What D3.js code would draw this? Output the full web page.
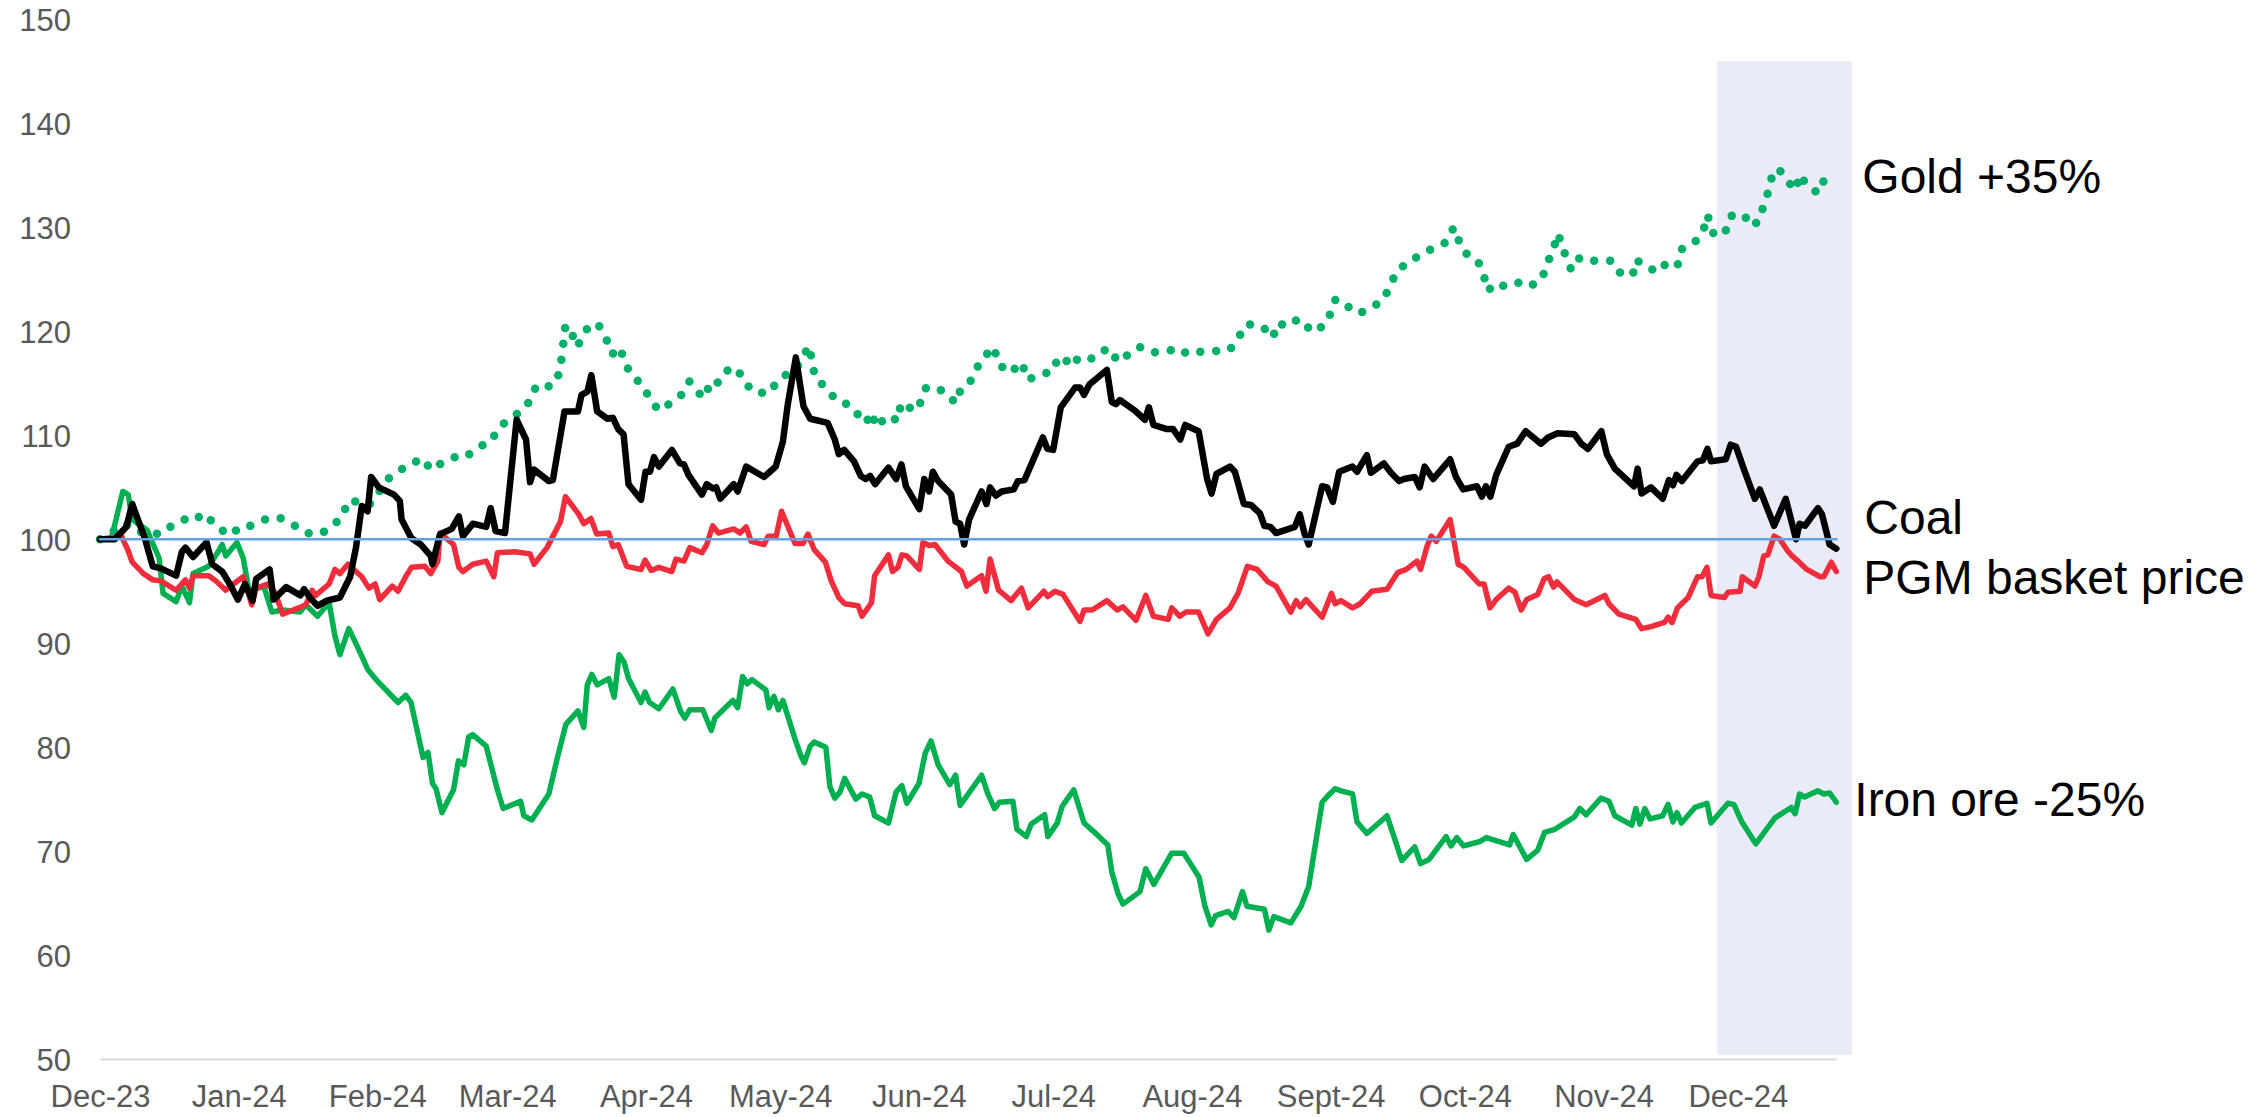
<!DOCTYPE html>
<html>
<head>
<meta charset="utf-8">
<script src="https://cdn.jsdelivr.net/npm/d3@7"></script>
<style>
  html, body { margin: 0; padding: 0; background: #fff; }
  svg { display: block; font-family: "Liberation Sans", Arial, sans-serif; }
</style>
</head>
<body>
<script>
// values are rebased to 100; x is days after 1 Dec 2023
const yTicks = [50, 60, 70, 80, 90, 100, 110, 120, 130, 140, 150];

const ironOre = [[0,100],[2.5,100],[5.1,104.6],[6.3,104.3],[7.2,101.9],[8.5,101.5],[10.5,100.9],[11.4,100],[13.2,98.2],[14.1,94.8],[17.0,94],[18.3,95.5],[20.0,93.9],[20.8,96.7],[24.3,97.4],[26.4,98.8],[27.3,99.5],[28.1,98.4],[30.6,99.7],[32.0,98.2],[33.3,95],[36.6,95.5],[38.4,93],[40.9,93.2],[44.7,93],[46.0,93.7],[48.6,92.6],[51.2,93.9],[52.5,90.7],[53.6,88.9],[55.6,91.4],[57.6,89.6],[59.8,87.5],[61.9,86.4],[66.6,84.3],[68.3,85],[69.5,84.3],[72.2,79],[73.3,79.5],[74.3,76.5],[75.1,76],[76.4,73.7],[79.0,75.9],[80.1,78.7],[81.3,78.3],[82.4,81],[83.3,81.2],[86.3,80.1],[88.8,75.9],[90.1,74.1],[94.0,74.8],[94.7,73.4],[96.5,73],[100.3,75.5],[102.1,78.8],[104.1,82.2],[106.8,83.5],[108.1,81.9],[108.9,86],[109.9,87],[111.1,86],[113.7,86.6],[114.9,84.8],[116.0,88.9],[117.1,88.2],[118.1,86.6],[120.9,84.3],[121.8,85.3],[122.8,84.3],[124.9,83.7],[128.0,85.6],[129.8,83.4],[130.7,82.8],[131.8,83.6],[134.7,83.6],[136.6,81.6],[137.4,82.8],[141.4,84.5],[142.5,83.8],[143.6,86.8],[144.6,86.1],[145.7,86.5],[148.8,85.5],[149.5,83.8],[150.6,84.9],[151.6,83.6],[152.6,84.5],[155.3,80.8],[156.6,79.2],[157.4,78.5],[158.7,80.1],[159.6,80.5],[162.2,80],[163.1,76.2],[164.2,75.1],[165.4,75.7],[166.4,77],[168.9,75],[170.3,75.5],[172.0,75.2],[173.1,73.4],[176.2,72.7],[177.9,75.7],[179.2,76.3],[180.3,74.6],[183.0,76.5],[184.4,79.4],[185.7,80.6],[187.3,78.3],[189.9,76.4],[191.2,77.3],[192.2,74.4],[197.0,77.3],[198.4,75.5],[199.9,74.1],[201.0,74.7],[204.0,74.8],[204.9,72.1],[207.0,71.4],[208.1,72.6],[211.1,73.5],[211.8,71.4],[213.9,72.7],[215.0,74.3],[217.6,75.9],[219.9,72.7],[222.0,71.9],[225.2,70.6],[226.1,68],[227.5,65.9],[228.6,64.9],[232.4,66.1],[233.7,68.3],[235.5,66.8],[239.5,69.8],[242.2,69.8],[245.6,67.5],[246.9,64.7],[248.3,62.9],[249.3,63.8],[252.1,64.2],[253.4,63.6],[255.3,66.1],[256.3,64.7],[260.2,64.4],[261.2,62.4],[262.3,63.7],[266.1,63.1],[268.4,64.7],[270.1,66.6],[273.1,74.7],[274.8,75.5],[276.0,76],[277.3,75.8],[279.9,75.5],[280.9,72.8],[283.1,71.7],[287.6,73.4],[289.3,71.2],[290.9,69.1],[293.8,70.4],[295.1,68.8],[297.0,69.2],[300.8,71.4],[301.9,70.5],[303.2,71.3],[304.7,70.5],[308.2,70.9],[309.8,71.3],[315.0,70.6],[315.8,71.6],[318.8,69.2],[321.3,70.1],[322.8,71.8],[325.1,72.1],[329.5,73.3],[330.7,74.1],[332.1,73.5],[335.4,75.1],[337.2,74.8],[338.5,73.4],[342.3,72.5],[343.2,74.1],[344.1,72.6],[345.2,74.1],[346.4,73.1],[349.2,73.4],[350.4,74.5],[351.5,72.8],[352.4,73.7],[353.4,72.7],[356.4,74.2],[359.1,74.6],[360.0,72.7],[363.8,74.6],[365.1,74.5],[366.9,72.8],[370.0,70.7],[372.4,72.1],[374.3,73.2],[377.9,74.2],[378.8,73.6],[379.8,75.5],[380.9,75.2],[383.9,75.8],[385.2,75.5],[386.5,75.6],[388.0,74.7]];

const pgm = [[0,100],[4.8,100.3],[6.3,98.9],[7.2,97.8],[9.7,96.7],[11.8,96.1],[13.6,96],[17.0,95.1],[19.1,96.1],[20.0,95.3],[20.8,96.5],[24.3,96.5],[25.9,96],[28.1,95.1],[29.8,95.7],[32.0,96.4],[33.3,94.6],[33.9,93.7],[34.9,95.3],[37.5,95.7],[39.2,94.8],[40.8,92.8],[44.4,93.4],[46.0,93.7],[47.4,95.1],[48.2,94.6],[51.2,95.7],[52.5,97.1],[53.6,96.7],[55.4,97.6],[58.5,96.4],[60.1,95.3],[61.5,95.7],[62.5,94.2],[65.3,95.5],[66.6,95],[68.3,96.4],[69.6,97.3],[72.6,97.4],[73.9,96.7],[75.5,97.9],[76.0,100.6],[79.0,99.5],[80.2,97.3],[81.1,96.9],[83.3,97.6],[86.3,97.9],[88.0,96.4],[88.8,98.7],[92.7,98.8],[96.1,98.6],[97.0,97.6],[99.9,99.2],[102.9,101.7],[104.0,104.1],[107.0,102.4],[108.1,101.5],[109.7,102],[111.0,100.5],[113.7,100.6],[114.6,99.3],[115.8,99.5],[117.7,97.4],[120.9,97.1],[121.8,98],[123.2,97],[124.9,97.3],[127.8,96.9],[128.7,98.1],[130.5,97.9],[131.8,99.2],[134.5,98.7],[135.6,99.5],[136.9,101.3],[138.2,100.6],[141.6,101],[143.0,100.6],[144.4,101.2],[145.5,99.8],[148.4,99.5],[149.3,100.3],[151.1,100.3],[152.3,102.7],[155.3,99.6],[157.1,99.6],[158.2,100.5],[159.6,99],[162.1,97.8],[163.4,96],[165.1,94.4],[166.4,93.8],[169.4,93.6],[170.3,92.6],[172.4,93.9],[173.1,96.5],[176.2,98.5],[177.1,96.9],[178.3,97.3],[179.2,98.5],[180.3,98.4],[183.1,97.1],[183.9,99.7],[185.3,99.4],[186.6,99.5],[189.5,97.9],[192.5,96.9],[193.7,95.5],[197.0,96.5],[198.0,95],[198.9,98.1],[200.8,95.1],[203.6,94.1],[205.9,95.3],[207.4,93.4],[210.9,95],[211.8,94.5],[213.4,95],[215.2,94.7],[219.0,92.1],[219.9,93.2],[221.7,93.2],[225.0,94.1],[227.3,93.2],[228.6,93.5],[231.5,92.2],[233.7,94.6],[235.4,92.6],[238.7,92.3],[239.5,93.4],[241.3,92.6],[242.7,93],[245.5,93],[247.6,90.9],[249.5,92.3],[252.5,93.4],[254.3,94.8],[256.4,97.4],[258.6,97.1],[261.0,95.9],[262.8,95.5],[266.1,93],[267.3,94.1],[268.2,93.5],[269.5,94.2],[273.1,92.5],[275.2,94.8],[276.0,93.8],[277.3,94.1],[279.9,93.4],[281.6,93.8],[284.2,95],[287.6,95.2],[290.0,96.8],[291.9,97.1],[294.3,97.9],[295.1,97.1],[296.6,99.4],[297.5,100.3],[298.6,99.8],[301.7,101.9],[303.5,97.6],[304.8,97.3],[308.2,95.7],[309.3,95.7],[310.6,93.4],[312.0,94.2],[314.8,95.3],[316.2,94.9],[317.6,93.2],[318.8,94.2],[321.3,94.7],[322.7,96.2],[323.7,96.4],[324.8,95.4],[325.6,95.9],[329.5,94.2],[332.1,93.7],[336.3,94.6],[337.2,93.8],[339.4,92.8],[343.2,92.3],[344.5,91.4],[346.6,91.6],[349.6,92],[350.4,92.5],[351.3,92],[352.5,93.4],[354.9,94.4],[357.0,96.4],[358.0,96.4],[359.1,97.3],[360.0,94.6],[363.0,94.4],[363.8,94.9],[366.5,95],[367.0,96.4],[369.8,95.5],[370.7,96.4],[371.8,98.4],[372.7,98.5],[374.1,100.3],[375.4,100],[377.1,98.9],[377.9,98.5],[379.2,98],[381.4,97.1],[384.4,96.4],[385.2,96.4],[386.9,97.8],[388.0,96.9]];

const coal = [[0,100],[3.3,100],[5.9,101.2],[7.2,103.4],[10.1,100],[10.6,99.2],[11.8,97.4],[13.6,97.2],[17.0,96.5],[18.3,98.8],[19.1,99.2],[20.8,98.3],[23.8,99.7],[25.1,97.6],[27.3,96.9],[29.0,95.7],[30.8,94.2],[32.4,95.7],[34.1,94.1],[34.9,96.2],[37.9,97.1],[38.8,94.2],[41.6,95.4],[44.8,94.6],[45.6,95.2],[46.9,94.4],[48.6,93.6],[50.7,94.1],[53.6,94.4],[55.9,96.4],[57.2,99.2],[58.5,103.2],[59.8,102.7],[60.6,106],[62.3,105],[65.7,104.3],[67.0,103.7],[67.4,101.9],[69.6,100.1],[71.7,99.5],[73.9,98.4],[74.3,97.6],[75.5,99.7],[76.0,100.5],[78.6,101],[80.2,102.2],[81.1,100.3],[83.3,101.5],[86.3,101.2],[87.3,103],[88.4,100.8],[90.5,100.6],[93.1,111.5],[95.2,109.6],[96.1,105.5],[97.0,106.7],[100.3,105.6],[101.2,105.7],[103.8,112.3],[106.8,112.3],[107.6,113.9],[108.9,114.2],[109.8,115.8],[111.1,112.3],[113.4,111.6],[114.6,111.7],[115.8,110.6],[117.0,110.1],[118.1,105.3],[120.9,103.8],[121.9,106.5],[122.9,106.5],[123.8,107.9],[124.9,107],[127.8,108.6],[129.6,107.3],[130.5,107.2],[131.5,106.2],[134.5,104.3],[135.6,105.3],[136.9,104.9],[137.7,105],[138.6,103.9],[141.6,105.3],[142.5,104.6],[144.4,107],[148.4,106],[149.7,106.5],[151.0,107],[152.6,109.4],[153.7,113],[155.5,117.5],[157.2,112.8],[158.7,111.6],[162.6,111.2],[164.2,109.6],[165.1,108.2],[166.3,108.6],[168.5,107.5],[170.0,106.1],[171.1,105.8],[172.1,106.1],[173.2,105.3],[176.2,106.9],[177.9,105.8],[179.1,107.2],[180.1,105.1],[183.1,102.9],[184.2,105.8],[185.3,104.6],[186.1,106.5],[187.3,105.6],[190.2,104.3],[191.2,101.7],[192.2,101.5],[193.1,99.5],[194.2,101.9],[197.0,104.6],[198.1,103.4],[198.9,105],[200.2,104.2],[201.5,104.6],[204.2,104.8],[205.1,105.6],[206.6,105.7],[210.7,109.8],[211.7,108.7],[213.0,108.6],[214.7,112.7],[217.9,114.6],[219.0,114.6],[219.9,113.9],[221.1,114.9],[225.0,116.3],[226.1,113.2],[227.0,113],[227.9,113.4],[231.2,112.4],[233.5,111.5],[234.4,112.7],[235.4,111],[238.4,110.6],[239.8,110.6],[241.4,109.6],[242.5,111],[245.5,110.4],[247.4,105.8],[248.4,104.4],[249.5,106.3],[252.5,107],[253.6,106.5],[255.6,103.4],[257.2,103.3],[259.2,102.5],[260.2,101.3],[261.5,101.2],[262.8,100.6],[267.0,101.2],[268.1,102.4],[269.2,100.5],[270.1,99.5],[273.1,105.1],[274.2,105],[275.5,103.6],[276.9,106.5],[279.9,107],[280.9,106.5],[283.1,108.1],[284.0,106.4],[286.9,107.3],[288.5,106.4],[290.3,105.6],[291.4,105.8],[293.8,106],[294.9,105],[296.0,107],[297.9,105.8],[301.7,107.7],[303.0,106],[304.6,104.8],[307.7,105.1],[308.8,104.1],[309.7,105.1],[310.7,104.1],[312.0,106.2],[314.8,108.9],[316.7,109.2],[318.6,110.4],[322.0,109.2],[323.6,109.8],[325.7,110.2],[329.5,110.1],[331.0,109.2],[332.5,108.7],[335.5,110.4],[336.7,108.2],[338.5,106.8],[342.8,105.1],[343.6,106.8],[344.5,104.4],[346.6,105],[349.2,103.9],[350.6,105.7],[351.5,105.2],[352.3,106.2],[353.5,105.6],[357.0,107.5],[358.2,107.6],[359.2,108.7],[360.0,107.5],[363.3,107.7],[364.4,109.1],[365.6,108.9],[367.3,106.8],[369.8,103.9],[370.9,104.8],[374.1,101.3],[376.7,103.9],[379.0,100],[379.8,101.5],[381.0,101.3],[383.9,103],[384.8,102.4],[386.5,99.5],[388.0,99.1]];

const gold = [[0,100],[5.8,101.5],[7.8,100.8],[10.9,100.6],[13.6,100.5],[16.3,101.4],[18.9,101.9],[20.6,101.7],[23.2,102.5],[25.3,101.6],[26.8,101],[29.0,100.4],[31.7,101.3],[33.7,101.3],[36.9,101.9],[40.0,102.1],[43.2,101.4],[46.1,100.6],[49.3,100.5],[52.3,101.4],[54.3,102.3],[55.4,103.7],[58.5,103.6],[60.1,103.3],[62.1,104.4],[64.0,105.7],[66.8,106.6],[69.0,107.1],[71.9,107.8],[74.0,106.7],[76.9,107.5],[79.8,108],[81.7,107.9],[84.2,108.8],[87.4,109.4],[89.0,110.7],[91.6,111.6],[94.4,112.4],[96.4,113.5],[97.5,114.8],[100.9,114.7],[102.7,116],[103.2,117.6],[103.6,119.1],[104.0,120.6],[105.3,119.9],[106.7,118.5],[107.6,119.4],[109.4,120.6],[111.3,120.7],[113.1,119.3],[114.5,117.8],[115.8,118.5],[117.1,117.5],[118.3,116],[121.1,114.9],[122.8,113.6],[124.8,112.4],[127.5,113.1],[129.9,113.9],[131.7,115.2],[133.5,114.2],[135.1,113.6],[136.5,115.2],[137.9,115],[139.8,116.2],[142.3,116.5],[144.0,115.1],[146.3,114.1],[149.7,114.1],[151.3,115.2],[153.2,115.8],[155.3,116.3],[156.4,117],[157.4,117.8],[158.5,118.6],[159.1,117.1],[159.8,115.6],[162.3,114.5],[164.5,113.4],[166.0,113.2],[168.5,112.6],[170.5,111.2],[171.4,111.4],[172.5,112.2],[173.4,110.8],[176.0,111.9],[178.3,111.4],[178.9,112.9],[179.7,113.2],[181.8,112.3],[183.6,113.3],[184.6,114.6],[186.8,114.6],[189.0,114.1],[191.2,113.1],[192.5,114.6],[194.5,115.2],[196.1,116.6],[198.1,117.8],[199.8,118.5],[200.6,117],[203.0,116],[205.1,116.6],[206.2,117],[206.8,115.5],[208.7,115.5],[211.5,116],[213.4,117.1],[215.0,116.5],[217.0,117.8],[218.5,117.2],[220.7,117.1],[223.5,118.1],[226.0,118.3],[227.3,117.1],[229.9,117.8],[232.3,118.5],[234.5,118],[237.8,118],[241.0,118.4],[243.1,117.8],[246.4,118.1],[249.1,118.1],[252.4,118.2],[254.4,119.4],[256.2,120.7],[259.7,120.5],[262.1,119.4],[263.1,120.8],[265.6,120.5],[267.7,121.2],[269.8,120.4],[272.4,120],[273.8,121.3],[275.1,121.7],[276.1,123.1],[278.8,122.4],[281.3,121.7],[283.6,122.2],[286.5,122.9],[288.3,124.3],[289.6,125.7],[292.1,126.6],[295.2,127.4],[297.8,128],[300.9,128.6],[302.5,130],[303.4,129],[304.9,127.6],[307.9,126.8],[309.2,125.4],[310.2,123.9],[311.5,124.6],[314.6,124.3],[317.0,124.7],[319.3,124.3],[322.2,125],[323.3,126.5],[324.9,127.9],[325.5,129.4],[326.4,128.8],[327.6,127.1],[328.8,125.9],[330.7,127.1],[332.4,126.8],[335.8,126.8],[337.7,126.8],[339.4,125.7],[342.5,125.4],[343.3,126.9],[345.1,126.3],[348.2,125.7],[350.1,126.6],[352.5,126.3],[353.4,127.9],[356.4,128.6],[358.3,129.7],[359.2,131.2],[360.7,129.2],[363.3,129.7],[364.4,131.1],[367.1,131.3],[369.4,130.1],[371.1,130.9],[371.8,132.4],[373.2,133.8],[373.7,135.3],[375.2,135.6],[377.2,134.4],[379.0,133.6],[379.8,135.1],[381.4,134.1],[383.9,133.3],[385.5,134.8]];

const baseline = [[0,100],[388,100]];
const highlight = { from: 361.3, to: 391.5, top: 146 };
const lastDay = 388;

// ---------------------------------------------------------------
const W = 2249, H = 1117;
const base = Date.UTC(2023, 11, 1);
const toDate = d => new Date(base + d * 864e5);

const svg = d3.select('body').append('svg')
    .attr('width', W).attr('height', H);

const x = d3.scaleUtc()
    .domain([toDate(0), toDate(lastDay)])
    .range([100, 100 + lastDay * 4.475]);
const y = d3.scaleLinear().domain([50, 150]).range([1059, 19.6]);

// shaded last month
svg.append('rect')
    .attr('x', x(toDate(highlight.from)))
    .attr('y', y(highlight.top))
    .attr('width', x(toDate(highlight.to)) - x(toDate(highlight.from)))
    .attr('height', y(50.4) - y(highlight.top))
    .attr('fill', '#E9ECF7');

const fmtMonth = d => {
    const m = d3.utcFormat('%b')(d);
    return (m === 'Sep' ? 'Sept' : m) + '-' + d3.utcFormat('%y')(d);
};

const xAxis = svg.append('g')
    .attr('transform', `translate(0,${y(50)})`)
    .call(d3.axisBottom(x).ticks(d3.utcMonth.every(1)).tickFormat(fmtMonth)
        .tickSize(0).tickSizeOuter(0).tickPadding(26));
xAxis.select('.domain').attr('stroke', '#D9D9D9').attr('stroke-width', 2);
xAxis.selectAll('text').style('font-size', '31px').attr('fill', '#595959')
    .style('font-family', '"Liberation Sans", Arial, sans-serif');

const yAxis = svg.append('g')
    .attr('transform', `translate(100,0)`)
    .call(d3.axisLeft(y).tickValues(yTicks).tickSize(0).tickPadding(29));
yAxis.select('.domain').remove();
yAxis.selectAll('text').style('font-size', '31px').attr('fill', '#595959')
    .attr('dy', '0.36em')
    .style('font-family', '"Liberation Sans", Arial, sans-serif');

const line = d3.line().x(p => x(toDate(p[0]))).y(p => y(p[1]));

const series = [
    { data: ironOre, color: '#00B050', width: 5.5 },
    { data: pgm, color: '#EF2D3C', width: 5.5 },
    { data: gold, color: '#00B06A', width: 8.5, dash: '0 16' },
    { data: coal, color: '#000000', width: 6.5 },
    { data: baseline, color: '#62A2E8', width: 2.5 }
];

svg.append('g').selectAll('path')
    .data(series)
    .join('path')
    .attr('d', s => line(s.data))
    .attr('fill', 'none')
    .attr('stroke', s => s.color)
    .attr('stroke-width', s => s.width)
    .attr('stroke-linejoin', 'round')
    .attr('stroke-linecap', 'round')
    .attr('stroke-dasharray', s => s.dash || null);

// end labels
const endLabels = [
    { text: 'Gold +35%', at: 133.3, dx: 26 },
    { text: 'Coal', at: 100.5, dx: 28 },
    { text: 'PGM basket price', at: 94.7, dx: 27 },
    { text: 'Iron ore -25%', at: 73.4, dx: 18 }
];
svg.append('g').selectAll('text')
    .data(endLabels)
    .join('text')
    .attr('x', d => x(toDate(lastDay)) + d.dx)
    .attr('y', d => y(d.at))
    .attr('fill', '#000')
    .style('font-size', '48px')
    .text(d => d.text);
</script>
</body>
</html>
